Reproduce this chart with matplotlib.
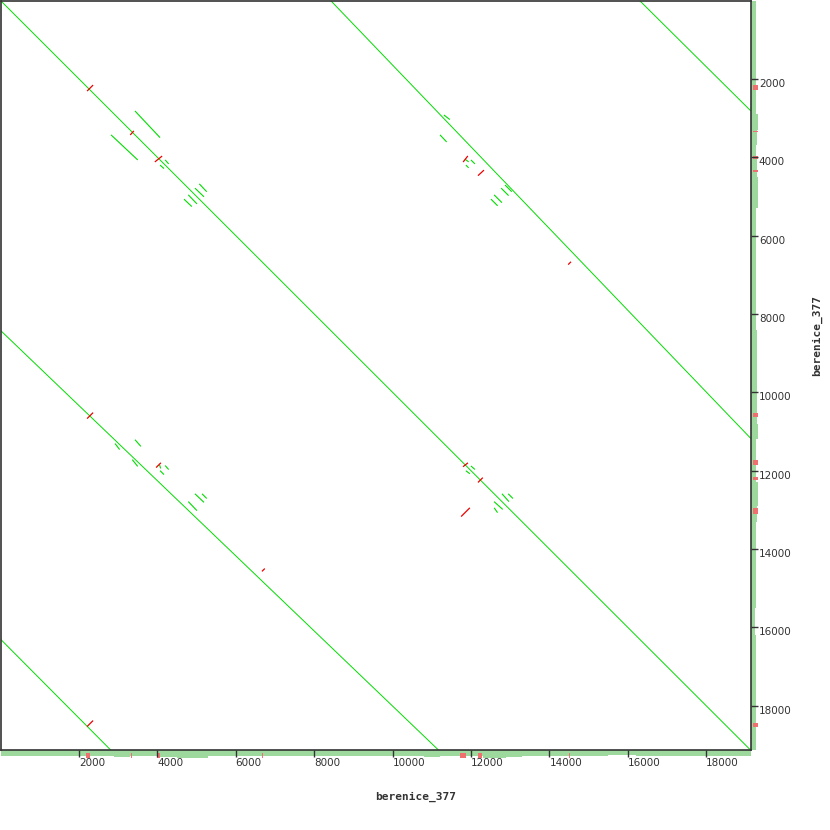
import matplotlib
matplotlib.use("Agg")
import matplotlib.pyplot as plt
import numpy as np

seq_len = 19130
seq_name = "berenice_377"

# long repeat diagonals (x0, y0, x1, y1) in bp
long_lines = [
    (0, 0, 19130, 19130),
    (8420, 0, 19130, 11170),
    (0, 8420, 11170, 19130),
    (16300, 0, 19130, 2810),
    (0, 16300, 2810, 19130),
]

# short forward matches
green_segs = [
    (3440, 2830, 4060, 3490), (2830, 3440, 3490, 4060),
    (4210, 4080, 4280, 4160), (4080, 4210, 4160, 4280),
    (5080, 4690, 5250, 4870), (4970, 4800, 5180, 5000),
    (4800, 4970, 5000, 5180), (4690, 5080, 4870, 5250),
    (11320, 2930, 11450, 3030), (11220, 3440, 11370, 3600),
    (11860, 4060, 11930, 4110), (11880, 4210, 11930, 4260),
    (12010, 4080, 12090, 4160),
    (12880, 4720, 13030, 4870), (12780, 4800, 12950, 4970),
    (12600, 4970, 12780, 5150), (12520, 5080, 12670, 5230),
    (2930, 11320, 3030, 11450), (3440, 11220, 3570, 11370),
    (3370, 11730, 3490, 11880), (4060, 11860, 4080, 11930),
    (4210, 11880, 4280, 11960), (4080, 12010, 4160, 12090),
    (4970, 12600, 5180, 12800), (5150, 12600, 5250, 12700),
    (4800, 12800, 5000, 13010),
    (12010, 11890, 12090, 11960), (11880, 12010, 11960, 12070),
    (12800, 12600, 12960, 12780), (12960, 12600, 13060, 12700),
    (12600, 12800, 12800, 12980), (12600, 12960, 12670, 13060),
]

# short reverse matches
red_segs = [
    (2220, 2300, 2350, 2170), (3320, 3420, 3390, 3340),
    (3950, 4110, 4110, 3980),
    (11810, 4110, 11910, 3980), (12190, 4460, 12320, 4340),
    (14490, 6730, 14540, 6680),
    (2220, 10660, 2350, 10530), (3980, 11910, 4080, 11810),
    (6680, 14560, 6730, 14510), (2220, 18520, 2350, 18390),
    (11810, 11890, 11910, 11810), (12190, 12290, 12290, 12190),
    (11760, 13160, 11960, 12960),
]

# coverage along the sequence (same sequence on both axes)
cov_edges = [0, 2900, 3300, 3700, 4000, 4500, 5300, 8400, 10800, 11200,
             11500, 12000, 12300, 12900, 13300, 15500, 16200, 19130]
cov_depth = [1.0, 1.3, 1.15, 1.0, 1.2, 1.4, 1.0, 1.1, 1.3, 1.0,
             1.05, 1.0, 1.4, 1.2, 1.0, 0.85, 1.05]

red_x_pos = [2240, 3340, 4030, 6680, 11800, 12240, 14510]
red_x_width = [110, 30, 70, 30, 150, 100, 30]
red_y_pos = [2220, 3340, 4000, 4360, 10580, 11800, 12190, 13030, 18490]
red_y_width = [110, 30, 70, 60, 90, 120, 80, 150, 90]

ticks = list(range(2000, 19000, 2000))

green = "#00dd00"
red = "#ee0000"
band_green = "#9dd89d"
band_red = "#f07070"
dark = "#333333"

W = 830.0
fig = plt.figure(figsize=(8.3, 8.3), dpi=100)

edges = np.array(cov_edges)
lefts = edges[:-1]
widths = np.diff(edges)

# coverage bands (added first so main ticks sit on top)
axb = fig.add_axes([0.5 / W, (W - 760) / W, 750 / W, 10 / W])
axb.bar(lefts, cov_depth, width=widths, align="edge", color=band_green,
        lw=0)
axb.bar(red_x_pos, [0.9] * len(red_x_pos), width=red_x_width, bottom=0.5,
        color=band_red, lw=0)
axb.set_xlim(0, seq_len)
axb.set_ylim(1.8, 0)
axb.axis("off")

axr = fig.add_axes([750.5 / W, (W - 750) / W, 10 / W, 749.5 / W])
axr.barh(lefts, cov_depth, height=widths, align="edge", color=band_green,
         lw=0)
axr.barh(red_y_pos, [0.9] * len(red_y_pos), height=red_y_width, left=0.5,
         color=band_red, lw=0)
axr.set_ylim(seq_len, 0)
axr.set_xlim(0, 1.8)
axr.axis("off")

ax = fig.add_axes([0.5 / W, (W - 750) / W, 750 / W, 749.5 / W])
ax.patch.set_alpha(0)
for x0, y0, x1, y1 in long_lines:
    ax.plot([x0, x1], [y0, y1], color=green, lw=0.7)
for x0, y0, x1, y1 in green_segs:
    ax.plot([x0, x1], [y0, y1], color=green, lw=0.8)
for x0, y0, x1, y1 in red_segs:
    ax.plot([x0, x1], [y0, y1], color=red, lw=0.9)

ax.set_xlim(0, seq_len)
ax.set_ylim(seq_len, 0)
ax.set_xticks(ticks)
ax.set_yticks(ticks)
ax.yaxis.tick_right()
ax.tick_params(direction="out", length=5, width=1, color=dark,
               labelsize=7.5, labelcolor=dark, pad=1)
for lab in ax.get_xticklabels():
    lab.set_horizontalalignment("left")
for lab in ax.get_yticklabels():
    lab.set_verticalalignment("top")
for sp in ax.spines.values():
    sp.set_color(dark)
    sp.set_linewidth(1.2)

fig.text(416 / W, 1 - 797 / W, seq_name, ha="center", va="center",
         family="DejaVu Sans Mono", weight="bold", fontsize=8, color=dark)
fig.text(817 / W, 1 - 335 / W, seq_name, ha="center", va="center",
         rotation=90, family="DejaVu Sans Mono", weight="bold", fontsize=8,
         color=dark)

fig.savefig("out.png", dpi=100, facecolor="white")
